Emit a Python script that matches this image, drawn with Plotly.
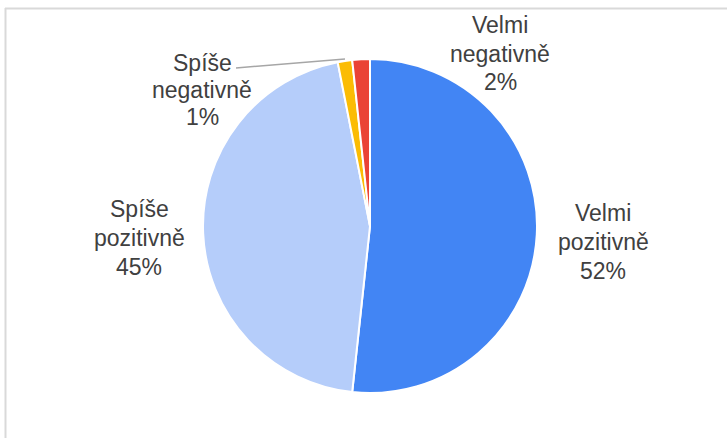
import plotly.graph_objects as go

W, H = 727, 438

# Data
labels = ["Velmi pozitivně", "Spíše pozitivně", "Spíše negativně", "Velmi negativně"]
values = [51.7, 45.2, 1.4, 1.7]
colors = ["#4285F4", "#B5CDFA", "#FBBC04", "#EA4335"]

# Label placement (pixel centers of the 3 text lines)
label_x = [603, 139, 202, 500]
label_y = [[213, 242, 271], [209, 238, 267], [63, 90, 117], [25, 54, 82]]

def px(x):
    return x / W

def py(y):
    return 1 - y / H

cx, cy, r = 370, 226, 167

fig = go.Figure(go.Pie(
    labels=labels,
    values=values,
    sort=False,
    direction="clockwise",
    rotation=0,
    textinfo="none",
    hoverinfo="label+percent",
    marker=dict(colors=colors, line=dict(color="white", width=2)),
    domain=dict(x=[px(cx - r), px(cx + r)], y=[py(cy + r), py(cy - r)]),
    showlegend=False,
))

total = sum(values)
annotations = []
for lab, v, x, ys in zip(labels, values, label_x, label_y):
    words = lab.split(" ")
    lines = [words[0], words[1], f"{round(v / total * 100)}%"]
    for t, y in zip(lines, ys):
        annotations.append(dict(
            x=px(x), y=py(y), xref="paper", yref="paper",
            text=t, showarrow=False, xanchor="center", yanchor="middle",
            font=dict(family="Liberation Sans, Arial, sans-serif", size=23, color="#404040"),
        ))

shapes = [
    # leader line for small slice label
    dict(type="line", xref="paper", yref="paper",
         x0=px(236), y0=py(68), x1=px(345), y1=py(59),
         line=dict(color="#A6A6A6", width=1.5)),
    # frame (top and left borders)
    dict(type="line", xref="paper", yref="paper",
         x0=px(5), y0=py(8.5), x1=1, y1=py(8.5),
         line=dict(color="#D9D9D9", width=2)),
    dict(type="line", xref="paper", yref="paper",
         x0=px(5.5), y0=py(8), x1=px(5.5), y1=0,
         line=dict(color="#D9D9D9", width=2)),
]

fig.update_layout(
    width=W, height=H,
    margin=dict(l=0, r=0, t=0, b=0),
    paper_bgcolor="white",
    plot_bgcolor="white",
    annotations=annotations,
    shapes=shapes,
)

fig.write_html("out.html", config={"displayModeBar": False})

# remove default browser body margin so the figure sits at the page origin
with open("out.html", "r", encoding="utf-8") as f:
    html = f.read()
html = html.replace("<head>", "<head><style>html,body{margin:0;padding:0;overflow:hidden;}</style>", 1)
with open("out.html", "w", encoding="utf-8") as f:
    f.write(html)
